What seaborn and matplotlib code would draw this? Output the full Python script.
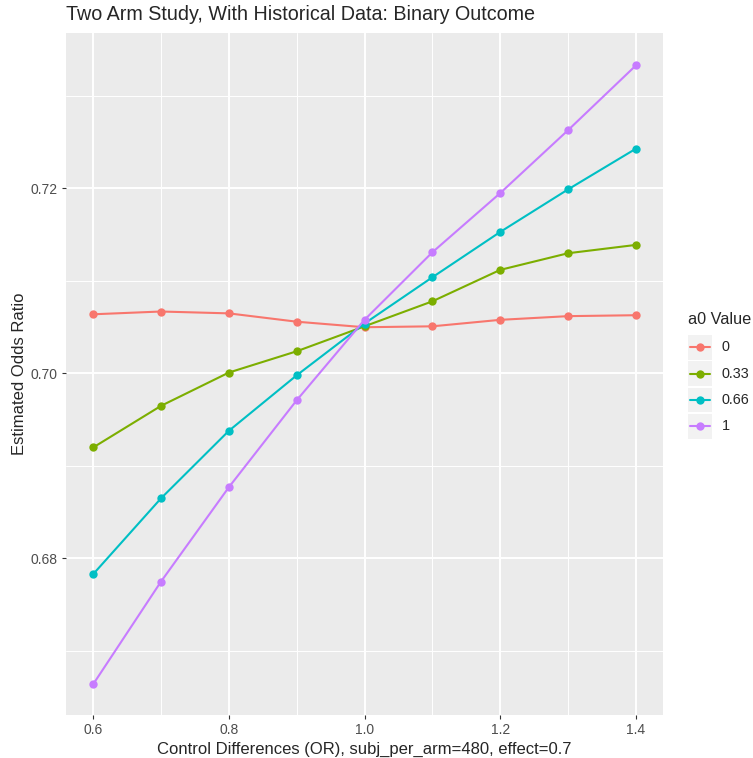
import pandas as pd
import seaborn as sns
import matplotlib.pyplot as plt
from matplotlib.patches import Rectangle
from matplotlib.ticker import MultipleLocator

# Valores
control_diff = [0.6, 0.7, 0.8, 0.9, 1.0, 1.1, 1.2, 1.3, 1.4]
a0_levels = ["0", "0.33", "0.66", "1"]
or_a0_0 = [0.7064, 0.7067, 0.7065, 0.7056, 0.7050, 0.7051, 0.7058, 0.7062, 0.7063]
or_a0_033 = [0.6920, 0.6965, 0.7001, 0.7024, 0.7051, 0.7078, 0.7112, 0.7130, 0.7139]
or_a0_066 = [0.6783, 0.6865, 0.6938, 0.6998, 0.7054, 0.7104, 0.7153, 0.7199, 0.7243]
or_a0_1 = [0.6664, 0.6775, 0.6877, 0.6971, 0.7058, 0.7131, 0.7195, 0.7263, 0.7333]
colors = ["#F8766D", "#7CAE00", "#00BFC4", "#C77CFF"]

series = [or_a0_0, or_a0_033, or_a0_066, or_a0_1]
df = pd.DataFrame({
    "control": control_diff * 4,
    "odds": [v for s in series for v in s],
    "a0": [lvl for lvl in a0_levels for _ in control_diff],
})

sns.set_style("darkgrid", {"axes.facecolor": "#EBEBEB", "grid.color": "white"})
plt.rcParams["font.family"] = ["Liberation Sans", "DejaVu Sans"]

W, H = 753, 758
fig = plt.figure(figsize=(W / 100, H / 100), dpi=100)
ax = fig.add_axes([66 / W, 1 - 715 / H, (663 - 66) / W, (715 - 33) / H])

sns.lineplot(data=df, x="control", y="odds", hue="a0", hue_order=a0_levels,
             palette=colors, marker="o", markersize=6, markeredgewidth=0,
             linewidth=1.5, ax=ax, legend=False)

ax.set_xlim(0.56, 1.44)
ax.set_ylim(0.66308, 0.73681)
ax.xaxis.set_minor_locator(MultipleLocator(0.1))
ax.yaxis.set_minor_locator(MultipleLocator(0.01))
ax.set_xticks([0.6, 0.8, 1.0, 1.2, 1.4])
ax.set_xticklabels(["0.6", "0.8", "1.0", "1.2", "1.4"])
ax.set_yticks([0.68, 0.70, 0.72])
ax.set_yticklabels(["0.68", "0.70", "0.72"])
ax.grid(which="major", color="white", linewidth=1.4)
ax.grid(which="minor", color="white", linewidth=0.7)
ax.tick_params(which="major", length=3, width=0.8, color="#333333",
               labelsize=10, labelcolor="#4D4D4D", pad=3)
ax.tick_params(which="minor", length=0)
ax.tick_params(axis="x", bottom=True)
ax.tick_params(axis="y", left=True)
for s in ax.spines.values():
    s.set_visible(False)

ax.set_xlabel("Control Differences (OR), subj_per_arm=480, effect=0.7", fontsize=12, labelpad=3)
ax.set_ylabel("Estimated Odds Ratio", fontsize=12, labelpad=2.5)
fig.text(66 / W, 1 - 15 / H, "Two Arm Study, With Historical Data: Binary Outcome",
         fontsize=14.2, ha="left", va="center")

# Leyenda manual al estilo ggplot
fig.text(688 / W, 1 - 320 / H, "a0 Value", fontsize=11.7, ha="left", va="center")
for i, (lvl, c) in enumerate(zip(a0_levels, colors)):
    yc = 1 - (347.3 + 26.3 * i) / H
    fig.patches.append(Rectangle((688 / W, yc - 12.3 / H), 24 / W, 24.6 / H,
                                 transform=fig.transFigure, facecolor="#F2F2F2",
                                 edgecolor="none", zorder=0))
    fig.lines.append(plt.Line2D([690 / W, 710 / W], [yc, yc], color=c, linewidth=1.5,
                                transform=fig.transFigure))
    fig.lines.append(plt.Line2D([700 / W], [yc], color=c, marker="o", markersize=6,
                                markeredgewidth=0, transform=fig.transFigure))
    fig.text(721.5 / W, yc, lvl, fontsize=10.4, ha="left", va="center")

fig.savefig("out.png", dpi=100)
